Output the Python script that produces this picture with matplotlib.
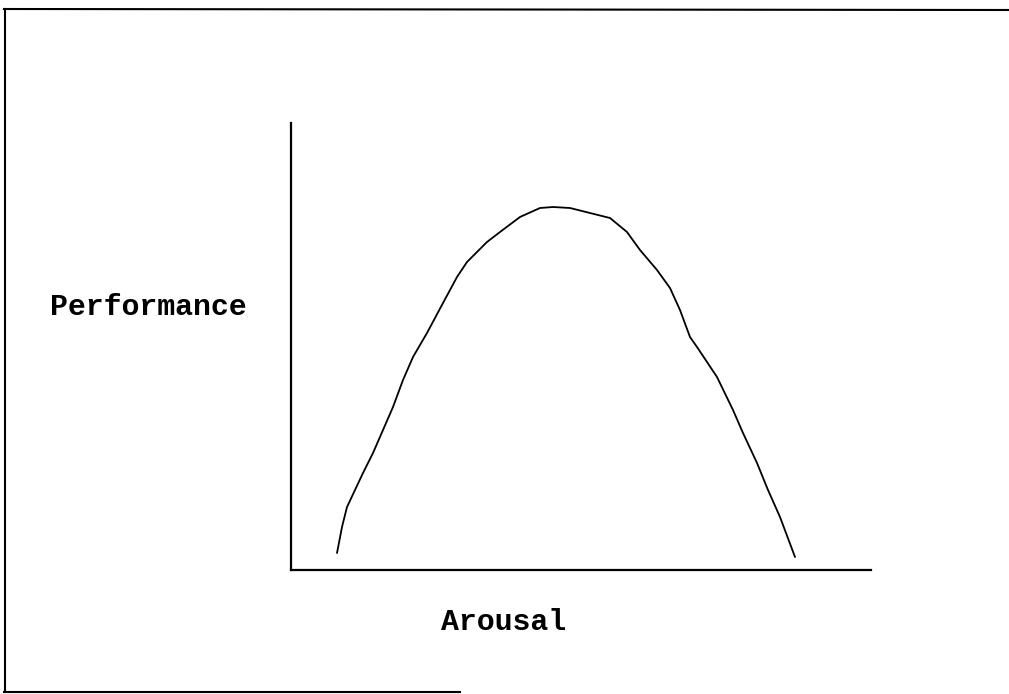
import matplotlib
matplotlib.use("Agg")
import matplotlib.pyplot as plt
from matplotlib.lines import Line2D

# Inverted-U (Yerkes-Dodson) curve, arbitrary units
arousal = [46, 51, 56, 64, 72, 82, 92, 102, 112, 122,
           136, 152, 166, 176, 196, 209, 229, 249, 262, 279,
           299, 319, 336, 349, 366, 379, 389, 399, 406, 426,
           442, 452, 466, 477, 489, 504]
performance = [17, 43, 63, 80, 97, 117, 140, 163, 190, 213,
               237, 267, 293, 308, 328, 338, 353, 362, 363, 362,
               357, 352, 338, 320, 300, 282, 260, 233, 223, 193,
               160, 137, 107, 80, 53, 13]
x_label = "Arousal"
y_label = "Performance"

W, H = 1009, 694
fig = plt.figure(figsize=(W / 100, H / 100), dpi=100)
fig.patch.set_facecolor("white")

ax = fig.add_axes([291 / W, (H - 570) / H, (871 - 291) / W, (570 - 123) / H])
ax.plot(arousal, performance, color="black", lw=1.3, solid_joinstyle="round",
        solid_capstyle="round")
ax.set_xlim(0, 580)
ax.set_ylim(0, 447)
for s in ("top", "right"):
    ax.spines[s].set_visible(False)
for s in ("left", "bottom"):
    ax.spines[s].set_linewidth(1.6)
    ax.spines[s].set_color("black")
ax.set_xticks([])
ax.set_yticks([])
ax.patch.set_alpha(0)

font = dict(family=["Liberation Mono", "DejaVu Sans Mono"], fontsize=21.5,
            fontweight="bold", color="black")
fig.text(148 / W, 1 - 307 / H, y_label, ha="center", va="center", **font)
fig.text(504 / W, 1 - 622 / H, x_label, ha="center", va="center", **font)

# outer frame (right side open, as in scan)
fig.add_artist(Line2D([5 / W, 5 / W], [1 - 9 / H, 1 - 692 / H], transform=fig.transFigure,
                      color="black", lw=1.5))
fig.add_artist(Line2D([4 / W, 1.0], [1 - 9 / H, 1 - 10 / H], transform=fig.transFigure,
                      color="black", lw=1.5))
fig.add_artist(Line2D([4 / W, 460 / W], [1 - 692 / H, 1 - 692 / H], transform=fig.transFigure,
                      color="black", lw=1.5))

fig.savefig("out.png", dpi=100, facecolor="white")
